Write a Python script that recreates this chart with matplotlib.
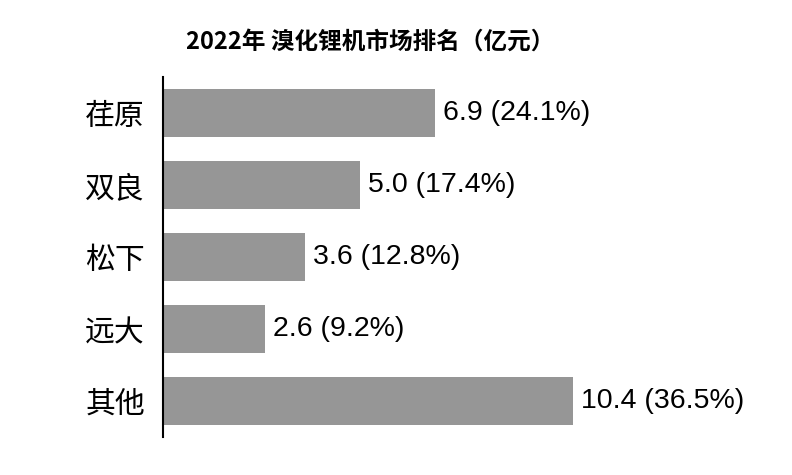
import matplotlib
matplotlib.use("Agg")
import matplotlib.pyplot as plt

plt.rcParams["font.family"] = ["Noto Sans CJK SC", "DejaVu Sans"]

companies = ["荏原", "双良", "松下", "远大", "其他"]
revenue = [6.9, 5.0, 3.6, 2.6, 10.4]
shares = [24.1, 17.4, 12.8, 9.2, 36.5]
title = "2022年 溴化锂机市场排名（亿元）"

fig = plt.figure(figsize=(7.92, 4.75), dpi=100)
ax = fig.add_axes([163 / 792, 38 / 475, 591 / 792, 360 / 475])

ypos = list(range(len(companies)))
ax.barh(ypos, revenue, height=0.665, color="#969696", edgecolor="none")

for y, v, s in zip(ypos, revenue, shares):
    ax.text(v + 0.2, y, f"{v:.1f} ({s:.1f}%)", va="center", ha="left",
            fontsize=20.5, family="Liberation Sans", color="black")

ax.set_yticks(ypos)
ax.set_yticklabels(companies, fontsize=21.5)
ax.tick_params(axis="y", length=0, pad=13)
ax.set_ylim(-0.5, 4.5)
ax.invert_yaxis()
ax.set_xlim(0, 15)
ax.set_xticks([])

for side in ["top", "right", "bottom"]:
    ax.spines[side].set_visible(False)
ax.spines["left"].set_linewidth(1.5)

fig.text(370 / 792, 1 - 42 / 475, title, ha="center", va="center",
         fontsize=17, fontweight="bold")

fig.savefig("out.png", dpi=100)
